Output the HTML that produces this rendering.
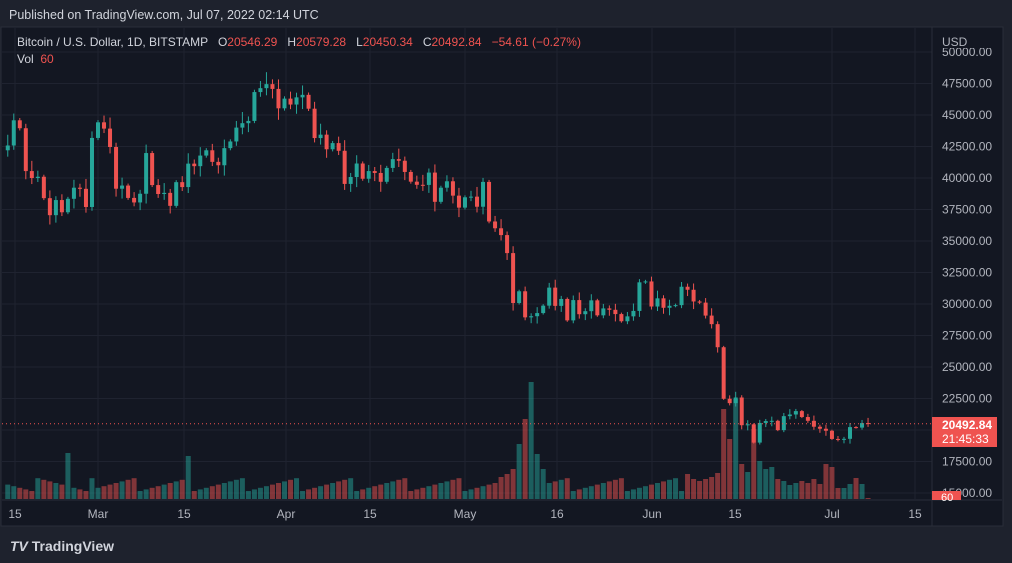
<!DOCTYPE html>
<html><head><meta charset="utf-8"><style>
body{margin:0;width:1012px;height:563px;background:#1e222d;overflow:hidden;font-family:"Liberation Sans",sans-serif}
text{white-space:pre}
</style></head><body>
<svg id="s" width="1012" height="563" xmlns="http://www.w3.org/2000/svg" style="position:absolute;left:0;top:0">
<rect x="0" y="0" width="1012" height="563" fill="#1e222d"/>
<rect x="1" y="27" width="1002" height="499" fill="#131722" stroke="#2a2e39"/>
<g id="g"></g>
<text x="9" y="19" fill="#d1d4dc" font-size="12.5">Published on TradingView.com, Jul 07, 2022 02:14 UTC</text>
<text x="17" y="46" fill="#d1d4dc" font-size="12" xml:space="preserve">Bitcoin / U.S. Dollar, 1D, BITSTAMP   O<tspan fill="#ef5350">20546.29</tspan>   H<tspan fill="#ef5350">20579.28</tspan>   L<tspan fill="#ef5350">20450.34</tspan>   C<tspan fill="#ef5350">20492.84</tspan>   <tspan fill="#ef5350">−54.61 (−0.27%)</tspan></text>
<text x="17" y="63" fill="#d1d4dc" font-size="12" xml:space="preserve">Vol  <tspan fill="#ef5350">60</tspan></text>
<rect x="933" y="28" width="69" height="20" fill="#131722"/>
<text x="942" y="46" fill="#b2b5be" font-size="12">USD</text>
<text x="10" y="551" fill="#d1d4dc" font-size="14" font-weight="bold" font-style="italic">TV <tspan font-style="normal">TradingView</tspan></text>
</svg>
<script>
const g=document.getElementById('g');let h='';
const Y=p=>52+(50000-p)/2500*31.5;
const X=d=>98+d*6.016;
[50000,47500,45000,42500,40000,37500,35000,32500,30000,27500,25000,22500,20000,17500,15000].forEach(p=>{h+=`<line x1="2" x2="932" y1="${Y(p)}" y2="${Y(p)}" stroke="#1f2330"/>`;});
[15,98,184,286,370,465,557,652,735,832,915].forEach(x=>{h+=`<line x1="${x}" x2="${x}" y1="28" y2="499" stroke="#1f2330"/>`;});
h+=`<line x1="932" x2="932" y1="27" y2="526" stroke="#2a2e39"/><line x1="2" x2="1002" y1="500" y2="500" stroke="#2a2e39"/>`;
const c=[42580,44580,43950,40550,40000,40100,38400,37050,38250,37280,38350,39230,39140,37700,43180,44420,43920,42460,39150,39400,38420,38060,38750,41980,39440,38730,38820,37790,39670,39280,41140,40940,41780,42200,41280,41010,42370,42900,44000,44350,44530,46820,47130,47450,47070,45530,46300,45830,46400,46600,45500,43170,43440,42280,42770,42160,39530,40080,41150,39940,40550,40400,39700,40800,41500,41370,40480,39710,39460,39450,40430,38110,39230,39740,38600,37650,38470,38520,37720,39690,36550,36010,35470,34040,30080,31010,28940,29030,29280,29870,31300,29850,30400,28700,30310,29190,29430,30290,29100,29650,29540,29200,28630,29020,29450,31720,31790,29800,30450,29700,29860,29910,31370,31130,30200,30110,29080,28400,26570,22480,22130,22580,20380,20450,19000,20560,20710,20730,19990,21100,21230,21500,21030,20730,20260,20100,19940,19290,19250,19300,20230,20190,20550,20492];
const start=-15;
const vh={[-5]:46,15:43,67:22,68:25,69:30,70:55,71:80,72:117,73:45,74:30,98:25,99:20,100:18,101:20,102:22,103:26,104:90,105:60,106:100,107:35,108:27,109:70,110:38,111:30,112:32,113:20,114:18,115:14,116:16,117:18,118:16,119:20,120:15,121:35,122:32,123:11,124:11,125:15,126:21,127:15};
let vb='',cb='';
for(let i=0;i<c.length;i++){const d=start+i;const o=i?c[i-1]:42200,cl=c[i];const up=cl>=o;
 const col=up?'#26a69a':'#ef5350';const x=X(d);
 let s=Math.abs(d*7919)%13;const hi=Math.max(o,cl)*(1+0.004+(s%5)*0.004),lo=Math.min(o,cl)*(1-0.004-((s*3)%5)*0.004);
 const v=i==c.length-1?1:(vh[d]!==undefined?vh[d]:(8+(Math.abs(d*37+11)%9)*1.6));
 vb+=`<rect x="${x-2.5}" y="${499-v}" width="5" height="${v}" fill="${col}" opacity="0.5"/>`;
 cb+=`<line x1="${x}" x2="${x}" y1="${Y(hi)}" y2="${Y(lo)}" stroke="${col}"/><rect x="${x-2}" y="${Math.min(Y(o),Y(cl))}" width="4" height="${Math.max(1,Math.abs(Y(o)-Y(cl)))}" fill="${col}"/>`;
}
h+=vb+cb;
h+=`<line x1="2" x2="932" y1="${Y(20492.84)}" y2="${Y(20492.84)}" stroke="#ef5350" stroke-dasharray="1,3"/>`;
[50000,47500,45000,42500,40000,37500,35000,32500,30000,27500,25000,22500,17500,15000].forEach(p=>{h+=`<text x="942" y="${Y(p)+4}" fill="#b2b5be" font-size="12">${p}.00</text>`;});
h+=`<rect x="932" y="417" width="65" height="30" fill="#ef5350"/><text x="942" y="429" fill="#fff" font-size="12" font-weight="bold">20492.84</text><text x="942" y="443" fill="#fff" font-size="12">21:45:33</text>`;
h+=`<rect x="932" y="491" width="29" height="9" fill="#ef5350"/><text x="941" y="501" fill="#fff" font-size="11">60</text>`;
[[15,'15'],[98,'Mar'],[184,'15'],[286,'Apr'],[370,'15'],[465,'May'],[557,'16'],[652,'Jun'],[735,'15'],[832,'Jul'],[915,'15']].forEach(([x,t])=>{h+=`<text x="${x}" y="518" fill="#b2b5be" font-size="12" text-anchor="middle">${t}</text>`;});
g.innerHTML=h;
</script>
</body></html>
